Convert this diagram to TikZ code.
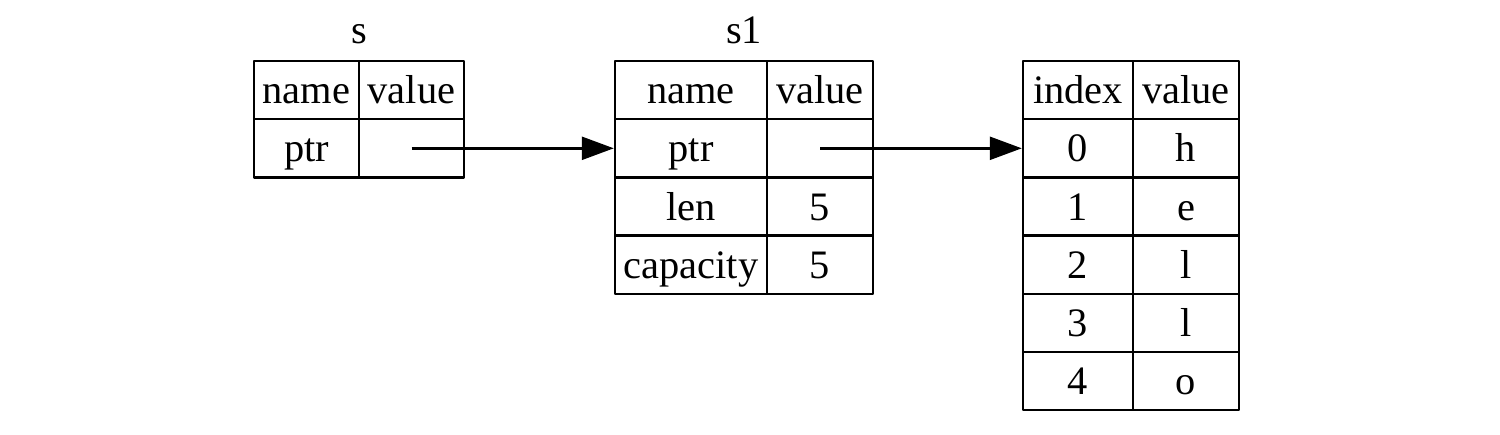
\documentclass[tikz,border=0pt]{standalone}
\usepackage{fontspec}
\setmainfont{Liberation Serif}
\usepackage{xcolor}
\usetikzlibrary{arrows.meta}
\tikzset{fig/.style={line join=round,>={Triangle[length=0.64cm,width=0.46cm]}},
  cell/.style={draw,line width=1.4pt,inner sep=0pt,minimum height=1.164cm,text height=15.5pt,text depth=0pt},
  ptr/.style={line width=1.4pt,->}}
\begin{document}
\begin{tikzpicture}[fig,x=0.02cm,y=-0.02cm,font=\fontsize{23}{27}\selectfont]
  \useasboundingbox(0,0)rectangle(1500,434);
  % s
  \node[text height=15.5pt,inner sep=0pt](st)at(359,30.5){s};
  \node[cell,minimum width=2.1cm](sh1)at(306.5,90.1){name};\node[cell,minimum width=2.1cm](sh2)at(411.5,90.1){value};
  \node[cell,minimum width=2.1cm](sp1)at(306.5,148.3){ptr};\node[cell,minimum width=2.1cm](sp2)at(411.5,148.3){};
  % s1
  \node[text height=15.5pt,inner sep=0pt](s1t)at(744,30.5){s1};
  \node[cell,minimum width=3.04cm](h1)at(691,90.1){name};\node[cell,minimum width=2.12cm](h2)at(820,90.1){value};
  \foreach \n/\v/\k [count=\r from 0] in {ptr//p,len/5/l,capacity/5/c}{
   \node[cell,minimum width=3.04cm](\k1)at(691,148.3+58.2*\r){\n};\node[cell,minimum width=2.12cm](\k2)at(820,148.3+58.2*\r){\v};}
  % heap
  \node[cell,minimum width=2.2cm](i1)at(1078,90.1){index};\node[cell,minimum width=2.12cm](i2)at(1186,90.1){value};
  \foreach \i/\c in {0/h,1/e,2/l,3/l,4/o}{
   \node[cell,minimum width=2.2cm](b\i)at(1078,148.3+58.2*\i){\i};\node[cell,minimum width=2.12cm](c\i)at(1186,148.3+58.2*\i){\c};}
  \draw[ptr](sp2.center)--(p1.west);
  \draw[ptr](p2.center)--(b0.west);
\end{tikzpicture}
\end{document}
